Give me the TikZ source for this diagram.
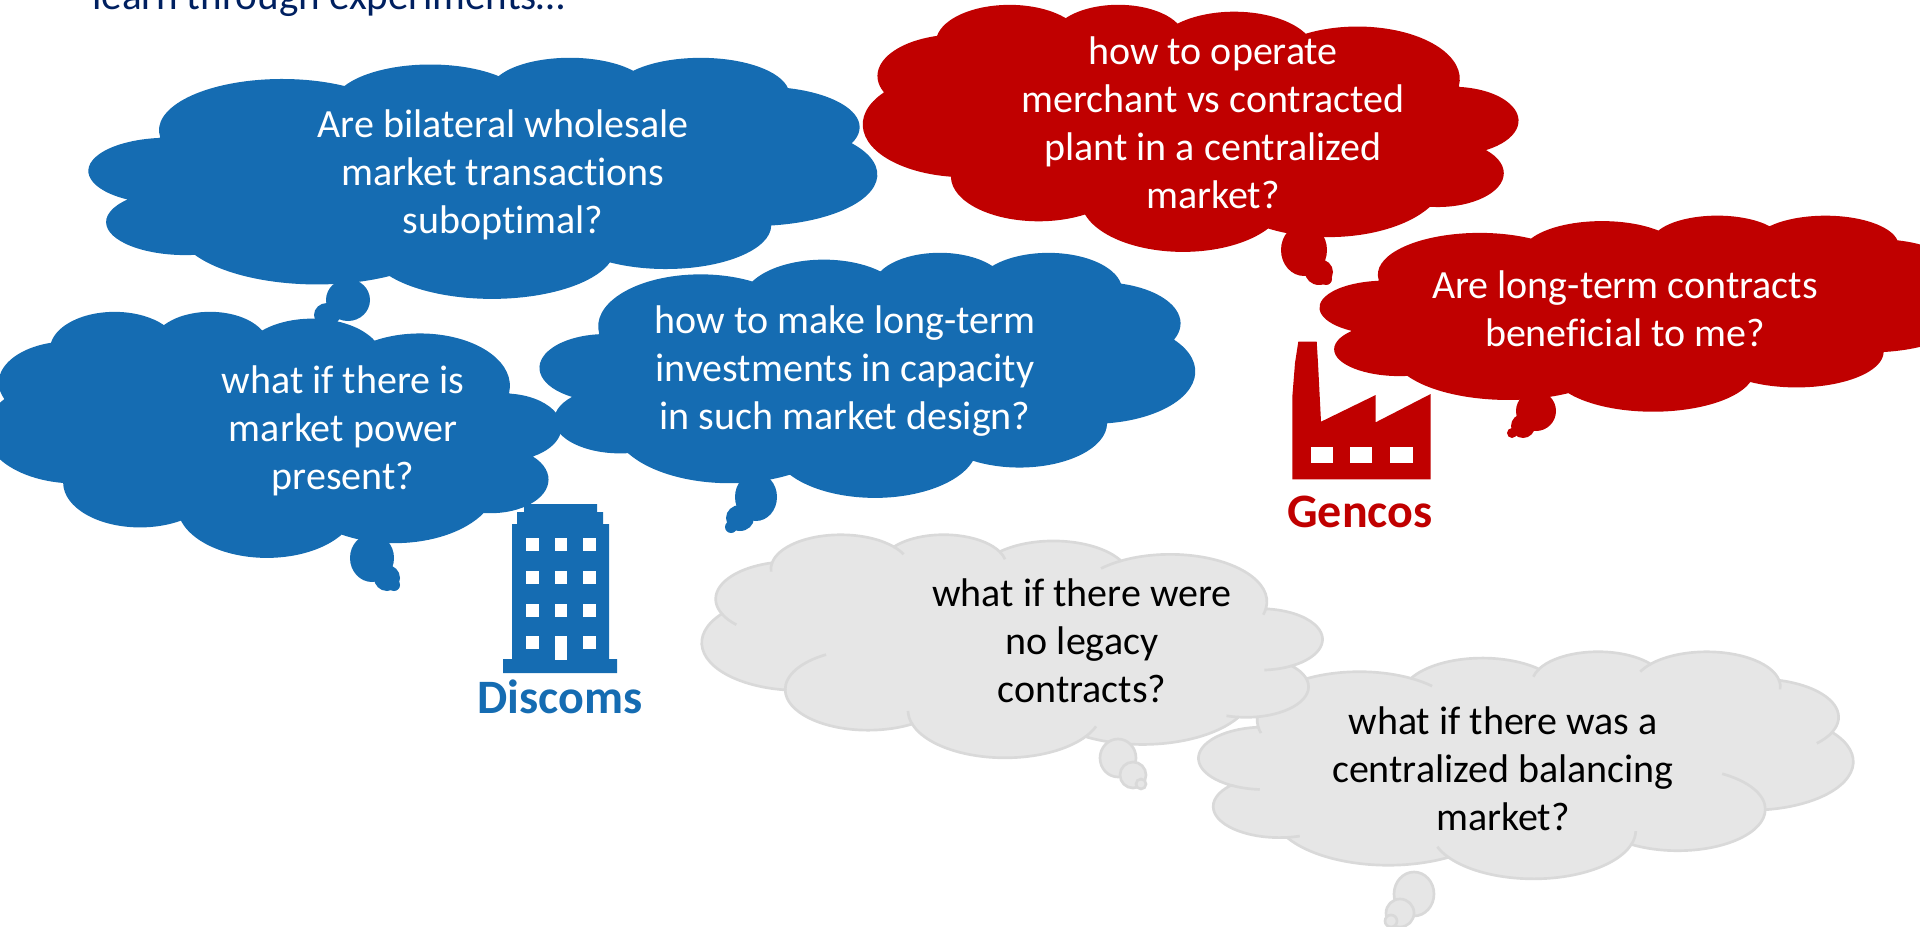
\documentclass[tikz,border=0pt]{standalone}
\usepackage{fontspec}
\setmainfont{Carlito}[Ligatures=NoCommon]

\definecolor{discomblue}{HTML}{156CB2}
\definecolor{gencored}{HTML}{C00000}
\definecolor{cloudgrey}{HTML}{E6E6E6}
\definecolor{cloudedge}{HTML}{D9D9D9}
\definecolor{headnavy}{HTML}{002060}

\tikzset{
  blueshape/.style={fill=discomblue,draw=none},
  redshape/.style={fill=gencored,draw=none},
  greyshape/.style={fill=cloudgrey,draw=cloudedge,line width=2pt},
  foldline/.style={draw=cloudedge,line width=2pt},
  pane/.style={fill=white,draw=none},
  question/.style={align=center,inner sep=0.75pt,font=\fontsize{30}{36}\selectfont},
  ownerlabel/.style={inner sep=0.75pt,font=\fontsize{36}{40}\selectfont\bfseries},
}

% cloud outline: style, name, left x, top y, x factor, y factor
\newcommand{\cloudbody}[6]{%
  \begin{scope}[shift={(#3,#4)},xscale=#5,yscale=#6]
    \path [#1] (39,143.7) coordinate (#2-0)
      \foreach \wr/\hr/\st/\sw [count=\i] in {67.53/91.90/-190.4875/123.7805,53.33/72.67/-144.1024/89.9452,43.65/59.45/-145.8079/99.7230,48.57/65.95/-130.9861/117.2417,53.33/72.73/-78.7089/109.0269,67.75/92.20/-46.2673/130.2690,57.85/78.67/0.6250/114.0333,67.52/92.15/22.4516/115.1726,77.20/105.43/66.2426/75.7110,43.60/59.18/-274.9421/146.7356,43.45/59.45/-246.8285/152.5189}
      { arc [x radius=\wr,y radius=\hr,start angle={atan2(\wr*sin(\st),\hr*cos(\st))},delta angle={Mod(atan2(\wr*sin(\st+\sw),\hr*cos(\st+\sw))-atan2(\wr*sin(\st),\hr*cos(\st)),360)}] coordinate (#2-\i) }
      -- cycle;
  \end{scope}}

% inner creases of the grey clouds
\newcommand{\cloudfolds}[5]{%
  \begin{scope}[shift={(#2,#3)},xscale=#4,yscale=#5]
    \foreach \p/\wr/\hr/\st/\ext in {0/67.53/91.90/-190.4875/-8,1/67.53/91.90/-66.707/15,2/43.65/59.45/-145.8079/-15,3/48.57/65.95/-130.9861/-15,4/48.57/65.95/-13.7444/15,5/53.33/72.73/30.318/20,6/57.85/78.67/0.625/-60,7/67.52/92.15/22.4516/-16,8/67.52/92.15/137.6242/14,9/43.60/59.18/-274.9421/-11.45,10/43.45/59.45/-246.8285/-26.43}
      \draw [foldline] (#1-\p) arc [x radius=\wr,y radius=\hr,start angle={atan2(\wr*sin(\st),\hr*cos(\st))},delta angle=\ext];
  \end{scope}}

\begin{document}
\begin{tikzpicture}[x=0.75pt,y=0.75pt,yscale=-1,xscale=1]
\useasboundingbox (0,0) rectangle (1920,927);
\clip (0,0) rectangle (1920,927);

% Heading, cut by the top edge
\node (heading) [anchor=base west,inner sep=0pt,text=headnavy,font=\fontsize{30.8}{36}\selectfont] at (92,10) {learn through experiments…};

%Shape: Office building
\fill [discomblue] (503,659) -- (512,659) -- (512,524) -- (517,524) -- (517,512) -- (524,512) -- (524,504) -- (597,504) -- (597,512) -- (603,512) -- (603,524) -- (609,524) -- (609,659) -- (617,659) -- (617,673) -- (503,673) -- cycle;
\foreach \wx in {526,554.5,583} {
  \foreach \wy in {538,571,604} {
    \fill [pane] (\wx,\wy) rectangle ++(12.5,12.5);
  }
}
\fill [pane] (526,636) rectangle ++(12.5,12.5);
\fill [pane] (583,636) rectangle ++(12.5,12.5);
\fill [pane] (554.5,636) rectangle ++(12.5,24);

%Shape: Factory
\fill [gencored] (1292.3,479.3) -- (1292.3,397) -- (1295,363) -- (1298.3,341.7) -- (1316.7,341.7) -- (1318,363) -- (1321,421.7) -- (1375.7,395) -- (1375.7,422.3) -- (1430.7,394) -- (1430.7,479.3) -- cycle;
\foreach \wx in {1310.7,1349.5,1390} {
  \fill [pane] (\wx,446.7) rectangle ++(22.5,16.6);
}

%Shape: Bilateral cloud
\cloudbody{blueshape}{bilateral}{89}{57}{788/432}{241/432}
\draw [blueshape] (348,300) ellipse [x radius=22,y radius=21];
\draw [blueshape] (327,315) ellipse [x radius=13,y radius=12];

%Shape: Market power cloud
\cloudbody{blueshape}{power}{561}{311}{-575/432}{246/432}
\draw [blueshape] (372,558) ellipse [x radius=22,y radius=24];
\draw [blueshape] (387,578) ellipse [x radius=13,y radius=13];
\draw [blueshape] (394,585) ellipse [x radius=6,y radius=6];

%Shape: Investments cloud
\cloudbody{blueshape}{invest}{540}{252}{655/432}{245/432}
\draw [blueshape] (756,497) ellipse [x radius=21,y radius=24];
\draw [blueshape] (740,518) ellipse [x radius=14,y radius=13];
\draw [blueshape] (731,527) ellipse [x radius=6,y radius=6];

%Shape: Merchant cloud
\cloudbody{redshape}{merchant}{1518}{4}{-655/432}{247/432}
\draw [redshape] (1304,250) ellipse [x radius=23,y radius=26];
\draw [redshape] (1319,272) ellipse [x radius=14,y radius=13];
\draw [redshape] (1326,279) ellipse [x radius=6,y radius=6];

%Shape: Contracts cloud
\cloudbody{redshape}{contracts}{1320}{215}{651/432}{196/432}
\draw [redshape] (1536,411) ellipse [x radius=20,y radius=20];
\draw [redshape] (1523,426) ellipse [x radius=12,y radius=12];
\draw [redshape] (1512,433) ellipse [x radius=5,y radius=5];

%Shape: Balancing cloud
\cloudbody{greyshape}{balancing}{1199}{651}{654/432}{227/432}
\cloudfolds{balancing}{1199}{651}{654/432}{227/432}
\draw [greyshape] (1414,894) ellipse [x radius=20,y radius=22];
\draw [greyshape] (1400,913) ellipse [x radius=14,y radius=14];
\draw [greyshape] (1391,921) ellipse [x radius=6,y radius=6];

%Shape: Legacy cloud
\cloudbody{greyshape}{legacy}{1322}{534}{-620/432}{223/432}
\cloudfolds{legacy}{1322}{534}{-620/432}{223/432}
\draw [greyshape] (1118,758) ellipse [x radius=18,y radius=19];
\draw [greyshape] (1133,775) ellipse [x radius=13,y radius=13];
\draw [greyshape] (1141,784) ellipse [x radius=5,y radius=5];

% Text Node
\node (qbilateral) [question,text=white] at (503,175) {Are bilateral wholesale\\market transactions\\suboptimal?};
\node (qpower) [question,text=white] at (343,431) {what if there is\\market power\\present?};
\node (qinvest) [question,text=white] at (845,371) {how to make long-term\\investments in capacity\\in such market design?};
\node (qmerchant) [question,text=white] at (1213,123) {how to operate\\merchant vs contracted\\plant in a centralized\\market?};
\node (qcontracts) [question,text=white] at (1625,309) {Are long-term contracts\\beneficial to me?};
\node (qlegacy) [question,text=black] at (1082,641) {what if there were\\no legacy\\contracts?};
\node (qbalancing) [question,text=black] at (1503,769) {what if there was a\\centralized balancing\\market?};
\node (discoms) [ownerlabel,text=discomblue] at (560,697) {Discoms};
\node (gencos) [ownerlabel,text=gencored] at (1360,512) {Gencos};

\end{tikzpicture}
\end{document}
